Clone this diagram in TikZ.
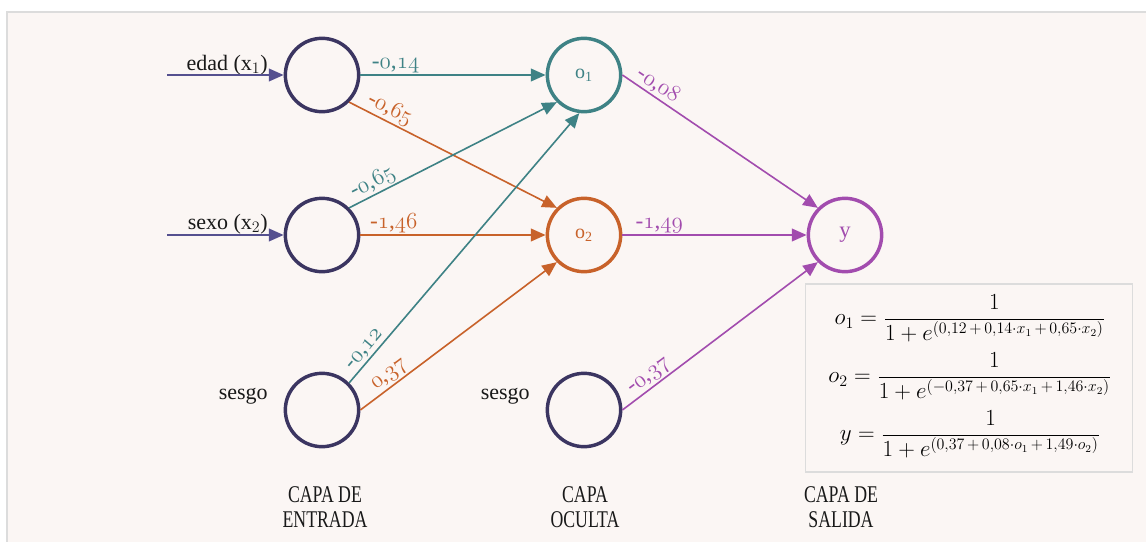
\documentclass[tikz,border=0pt]{standalone}
\usepackage{fontspec}
\setmainfont{Liberation Serif}
\newfontfamily\condfont[FakeStretch=0.74]{Liberation Serif}
\usetikzlibrary{arrows.meta}
\definecolor{bgc}{HTML}{FBF6F4}
\definecolor{bordc}{HTML}{DCDCDC}
\definecolor{navyc}{HTML}{3B3561}
\definecolor{inc}{HTML}{55508F}
\definecolor{tealc}{HTML}{3E8285}
\definecolor{orc}{HTML}{C8622A}
\definecolor{purc}{HTML}{A24CAE}
\newcommand\osn[1]{{\fontencoding{OML}\fontfamily{lmm}\fontseries{m}\fontshape{it}\selectfont #1}}
\tikzset{
  neuron/.style={circle, minimum size=55pt, inner sep=0pt, line width=2.6pt, draw=navyc},
  conn/.style={line width=1.2pt, -{Triangle[length=11pt,width=9.5pt]}},
  wlab/.style={font=\fontsize{17.5pt}{20pt}\selectfont, inner sep=1.2pt},
  txt/.style={font=\fontsize{16.5pt}{19pt}\selectfont, text=black!90},
  layer/.style={font=\condfont\fontsize{18pt}{18.75pt}\selectfont, align=center, text=black!90},
  fml/.style={font=\fontsize{16.5pt}{19pt}\selectfont},
}
\begin{document}
\begin{tikzpicture}[x=0.75pt,y=-0.75pt]
\useasboundingbox (0,0) rectangle (1146,542);
\path[fill=bgc, draw=bordc, line width=1.5pt] (7,12) rectangle (1152,548);
% formula box
\node[draw=bordc, fill=bgc, line width=0.8pt, minimum width=245.25pt, minimum height=141pt, inner sep=0pt] (fbox) at (969,378) {};
% neurons
\node[neuron] (in1) at (322,75) {};
\node[neuron] (in2) at (322,235) {};
\node[neuron] (b1) at (322,410) {};
\node[neuron, draw=tealc, text=tealc] (o1) at (584,75) {\fontsize{15pt}{17pt}\selectfont o\textsubscript{1}};
\node[neuron, draw=orc, text=orc] (o2) at (584,235) {\fontsize{15pt}{17pt}\selectfont o\textsubscript{2}};
\node[neuron] (b2) at (584,410) {};
\node[neuron, draw=purc, text=purc] (y) at (845,235) {\fontsize{17pt}{19pt}\selectfont y};
% input labels
\coordinate (s1) at (167,75);
\coordinate (s2) at (167,235);
\node[txt, anchor=base east, inner sep=0pt] (l1) at (268,70) {edad (x$_1$)};
\node[txt, anchor=base east, inner sep=0pt] (l2) at (268,229) {sexo (x$_2$)};
\node[txt, anchor=east, inner sep=0pt] (l3) at (268,396) {sesgo};
\node[txt, anchor=east, inner sep=0pt] (l4) at (530,396) {sesgo};
\draw[conn, draw=inc, -{Triangle[length=11pt,width=9.5pt,fill=inc]}] (s1) -- (in1.west);
\draw[conn, draw=inc, -{Triangle[length=11pt,width=9.5pt,fill=inc]}] (s2) -- (in2.west);
% hidden connections
\draw[conn, tealc] (in1.east) -- node[wlab, above, pos=0.19] {-\osn{0},\osn{14}} (o1.west);
\draw[conn, orc] (in1.south east) -- node[wlab, sloped, above, pos=0.17] {-\osn{0},\osn{65}} (o2.north west);
\draw[conn, tealc] (in2.north east) -- node[wlab, sloped, above, pos=0.14] {-\osn{0},\osn{65}} (o1.south west);
\draw[conn, orc] (in2.east) -- node[wlab, above, pos=0.18] {-\osn{1},\osn{46}} (o2.west);
\draw[conn, tealc] (b1.north east) -- node[wlab, sloped, above, pos=0.1] {-\osn{0},\osn{12}} (o1.-97);
\draw[conn, orc] (b1.east) -- node[wlab, sloped, above, pos=0.18] {\osn{0},\osn{37}} (o2.south west);
% output connections
\draw[conn, purc] (o1.east) -- node[wlab, sloped, above, pos=0.15] {-\osn{0},\osn{08}} (y.north west);
\draw[conn, purc] (o2.east) -- node[wlab, above, pos=0.2] {-\osn{1},\osn{49}} (y.west);
\draw[conn, purc] (b2.east) -- node[wlab, sloped, above, pos=0.17] {-\osn{0},\osn{37}} (y.south west);
% formulas
\node[fml] (f1) at (970,318) {$\displaystyle o_1 = \frac{1}{1+e^{(0{,}12\,+\,0{,}14\cdot x_1\,+\,0{,}65\cdot x_2)}}$};
\node[fml] (f2) at (970,376) {$\displaystyle o_2 = \frac{1}{1+e^{(-0{,}37\,+\,0{,}65\cdot x_1\,+\,1{,}46\cdot x_2)}}$};
\node[fml] (f3) at (970,434) {$\displaystyle y = \frac{1}{1+e^{(0{,}37\,+\,0{,}08\cdot o_1\,+\,1{,}49\cdot o_2)}}$};
% layer labels
\node[layer] (c1) at (325,507) {CAPA DE\\ENTRADA};
\node[layer] (c2) at (585,507) {CAPA\\OCULTA};
\node[layer] (c3) at (841,507) {CAPA DE\\SALIDA};
\end{tikzpicture}
\end{document}
